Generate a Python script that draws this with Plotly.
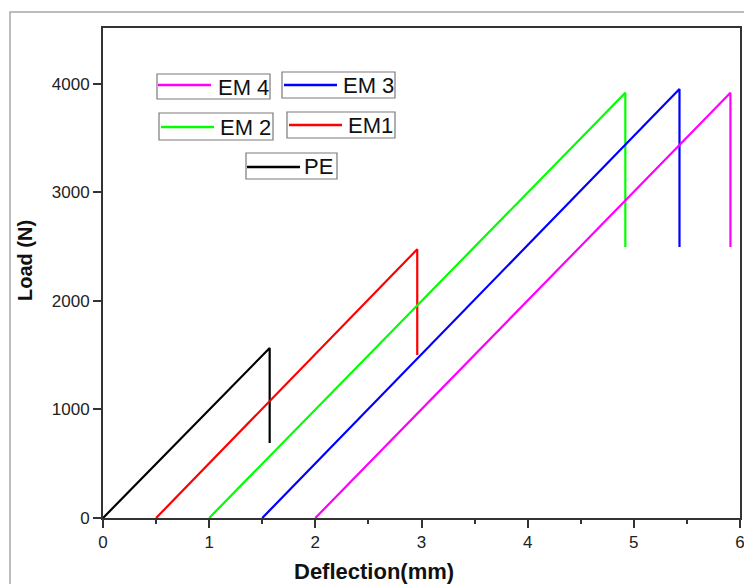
import plotly.graph_objects as go

# ---- data ----
series_names = ["PE", "EM1", "EM 2", "EM 3", "EM 4"]
pe_x = [0.0, 1.57, 1.57]
pe_y = [0, 1565, 690]
em1_x = [0.5, 2.96, 2.96]
em1_y = [0, 2475, 1500]
em2_x = [1.0, 4.92, 4.92]
em2_y = [0, 3915, 2495]
em3_x = [1.5, 5.43, 5.43]
em3_y = [0, 3950, 2495]
em4_x = [2.0, 5.91, 5.91]
em4_y = [0, 3915, 2495]
x_ticks = [0, 1, 2, 3, 4, 5, 6]
y_ticks = [0, 1000, 2000, 3000, 4000]

colors = {"PE": "#000000", "EM1": "#FF0000", "EM 2": "#00FF00",
          "EM 3": "#0000FF", "EM 4": "#FF00FF"}
data = {"PE": (pe_x, pe_y), "EM1": (em1_x, em1_y), "EM 2": (em2_x, em2_y),
        "EM 3": (em3_x, em3_y), "EM 4": (em4_x, em4_y)}

W, H = 744, 584
L, R, T, B = 103, 4, 28, 66
pw, ph = W - L - R, H - T - B

def px(x):
    return (x - L) / pw

def py(y):
    return (H - B - y) / ph

fig = go.Figure()
for name in series_names:
    xs, ys = data[name]
    fig.add_trace(go.Scatter(x=xs, y=ys, mode="lines", name=name,
                             line=dict(color=colors[name], width=2.2),
                             showlegend=False))

shapes = []
annotations = []

# outer frame
shapes.append(dict(type="rect", xref="paper", yref="paper",
                   x0=px(10), x1=px(1200), y0=py(1000), y1=py(12),
                   line=dict(color="#a8a8a8", width=1.5), layer="below"))

# legend boxes: (name, box x0, y0, x1, y1, line x0, x1, line y, text x)
legend_layout = [
    ("EM 4", 157, 74, 270, 99, 158, 211, 85, 216),
    ("EM 3", 282, 72, 395, 98, 284, 337, 85, 341),
    ("EM 2", 159, 113, 273, 140, 161, 214, 127, 218),
    ("EM1", 287, 112, 395, 138, 289, 342, 125, 346),
    ("PE", 246, 153, 337, 179, 247, 300, 167, 302),
]
for name, bx0, by0, bx1, by1, lx0, lx1, ly, tx in legend_layout:
    shapes.append(dict(type="rect", xref="paper", yref="paper",
                       x0=px(bx0), x1=px(bx1), y0=py(by1), y1=py(by0),
                       line=dict(color="#7a7a7a", width=1.2),
                       fillcolor="white"))
    shapes.append(dict(type="line", xref="paper", yref="paper",
                       x0=px(lx0), x1=px(lx1), y0=py(ly), y1=py(ly),
                       line=dict(color=colors[name], width=2.5)))
    annotations.append(dict(text=name, xref="paper", yref="paper",
                            x=px(tx), y=py((by0 + by1) / 2 + 1),
                            xanchor="left", yanchor="middle", showarrow=False,
                            font=dict(family="Liberation Sans, Arial", size=22,
                                      color="#111")))

# axis titles
annotations.append(dict(text="<b>Deflection(mm)</b>", xref="paper", yref="paper",
                        x=px(374), y=py(571), xanchor="center", yanchor="middle",
                        showarrow=False,
                        font=dict(family="Liberation Sans, Arial", size=22,
                                  color="#111")))
annotations.append(dict(text="<b>Load (N)</b>", xref="paper", yref="paper",
                        x=px(25), y=py(261), xanchor="center", yanchor="middle",
                        showarrow=False, textangle=-90,
                        font=dict(family="Liberation Sans, Arial", size=20,
                                  color="#111")))

fig.update_layout(
    width=W, height=H,
    margin=dict(l=L, r=R, t=T, b=B, autoexpand=False),
    paper_bgcolor="white", plot_bgcolor="white",
    shapes=shapes, annotations=annotations,
    font=dict(family="Liberation Sans, Arial", size=17, color="#222"),
)
fig.update_xaxes(range=[0, 6], tickvals=x_ticks, ticktext=[str(v) for v in x_ticks],
                 showgrid=False, zeroline=False, automargin=False,
                 ticklabeloverflow="allow",
                 showline=True, linecolor="#333", linewidth=2, mirror=True,
                 ticks="outside", ticklen=8, tickwidth=1.5, tickcolor="#333",
                 minor=dict(dtick=0.5, ticks="outside", ticklen=4,
                            tickwidth=1.5, tickcolor="#333", showgrid=False))
fig.update_yaxes(range=[0, 4512], tickvals=y_ticks, ticktext=[str(v) for v in y_ticks],
                 showgrid=False, zeroline=False, automargin=False,
                 ticklabeloverflow="allow",
                 showline=True, linecolor="#333", linewidth=2, mirror=True,
                 ticks="outside", ticklen=8, tickwidth=1.5, tickcolor="#333")

fig.write_html("out.html")
